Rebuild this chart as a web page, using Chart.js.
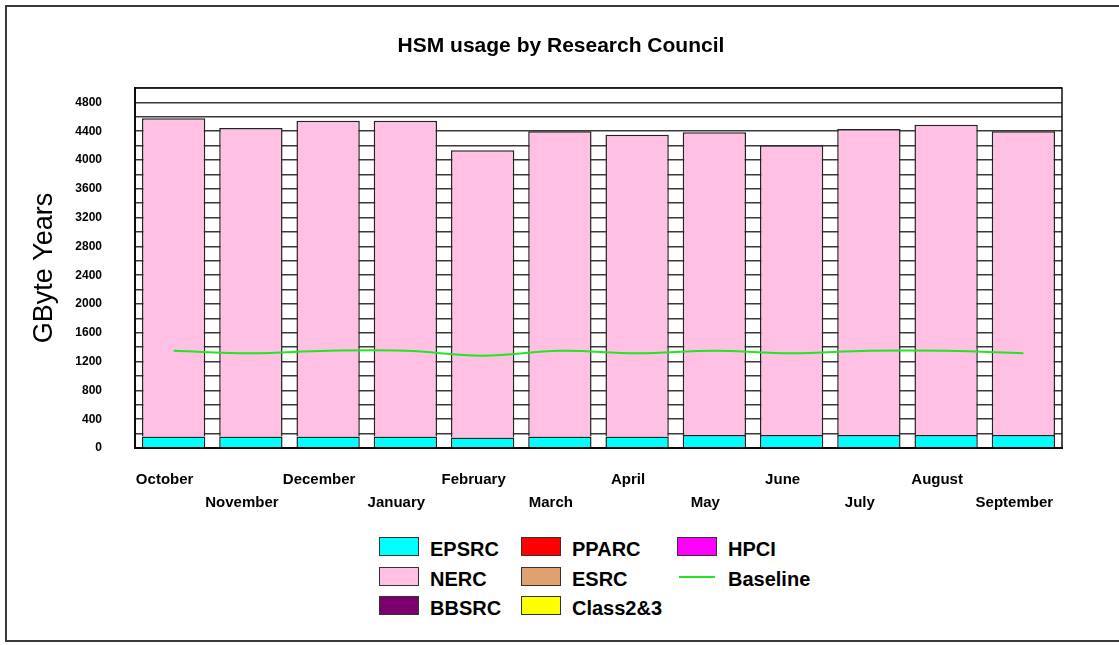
<!DOCTYPE html>
<html>
<head>
<meta charset="utf-8">
<title>HSM usage by Research Council</title>
<script src="https://cdn.jsdelivr.net/npm/chart.js@4/dist/chart.umd.min.js"></script>
<style>
  body { margin: 0; background: #fff; font-family: "Liberation Sans", Arial, sans-serif; }
  #frame { position: absolute; left: 5px; top: 5px; width: 1130px; height: 637px; border: 2px solid #3a3a3a; box-sizing: border-box; }
  #myChart { position: absolute; left: 0; top: 0; }
  #title { position: absolute; left: 0; width: 1122px; top: 33px; text-align: center; font-weight: bold; font-size: 21px; line-height: 24px; color: #000; }
  #legend { position: absolute; left: 379px; top: 537px; display: grid; grid-template-columns: 142px 156px 170px; grid-auto-rows: 29.5px; }
  .item { display: flex; align-items: center; height: 19px; }
  .box { width: 40px; height: 19px; box-sizing: border-box; border: 1.5px solid #333; margin-right: 11px; }
  .lineswatch { width: 40px; height: 19px; margin-right: 11px; position: relative; }
  .lineswatch::after { content: ""; position: absolute; left: 2px; right: 2px; top: 9px; border-top: 2px solid var(--c); }
  .txt { font-weight: bold; font-size: 20px; position: relative; top: 3px; color: #000; }
</style>
</head>
<body>
<div id="frame"></div>
<canvas id="myChart" width="1119" height="530"></canvas>
<div id="title">HSM usage by Research Council</div>
<div id="legend"></div>
<script>
// months, Oct -> Sep
const months = ["October", "November", "December", "January", "February", "March",
  "April", "May", "June", "July", "August", "September"];

// GByte Years per council
const epsrc = [160, 160, 160, 160, 145, 160, 160, 180, 180, 180, 180, 180];
const nerc = [4420, 4285, 4385, 4385, 3990, 4240, 4190, 4205, 4025, 4250, 4310, 4220];
const pparc = [0, 0, 0, 0, 0, 0, 0, 0, 0, 0, 0, 0];
const esrc = [0, 0, 0, 0, 0, 0, 0, 0, 0, 0, 0, 0];
const hpci = [0, 0, 0, 0, 0, 0, 0, 0, 0, 0, 0, 0];
const bbsrc = [0, 0, 0, 0, 0, 0, 0, 0, 0, 0, 0, 0];
const class23 = [0, 0, 0, 0, 0, 0, 0, 0, 0, 0, 0, 0];
const baseline = [1350, 1315, 1350, 1350, 1280, 1350, 1315, 1350, 1315, 1350, 1350, 1315];

Chart.defaults.font.family = '"Liberation Sans", Arial, sans-serif';
Chart.defaults.color = "#000";

function barSet(label, data, colour) {
  return {
    type: "bar",
    label: label,
    data: data,
    backgroundColor: colour,
    borderColor: "#222",
    borderWidth: 1.5,
    barPercentage: 0.82,
    categoryPercentage: 1,
    order: 1
  };
}

const datasets = [
  barSet("EPSRC", epsrc, "#00ffff"),
  barSet("PPARC", pparc, "#ff0000"),
  barSet("HPCI", hpci, "#ff00ff"),
  barSet("NERC", nerc, "#ffc0e4"),
  barSet("ESRC", esrc, "#e0a070"),
  {
    type: "line",
    label: "Baseline",
    data: baseline,
    borderColor: "#22e622",
    borderWidth: 2,
    pointRadius: 0,
    tension: 0.4,
    fill: false,
    order: 0
  },
  barSet("BBSRC", bbsrc, "#7a006e"),
  barSet("Class2&3", class23, "#ffff00")
];

// outline round the plot area
const plotBox = {
  id: "plotBox",
  afterDraw(chart) {
    const a = chart.chartArea;
    const ctx = chart.ctx;
    ctx.save();
    ctx.strokeStyle = "#111";
    ctx.lineWidth = 1.5;
    ctx.strokeRect(a.left, a.top, a.right - a.left, a.bottom - a.top);
    ctx.restore();
  }
};

const ctx = document.getElementById("myChart").getContext("2d");
const myChart = new Chart(ctx, {
  data: { labels: months, datasets: datasets },
  plugins: [plotBox],
  options: {
    responsive: false,
    animation: false,
    devicePixelRatio: 1,
    layout: { padding: { top: 88, left: 10, right: 57, bottom: 16 } },
    plugins: {
      legend: { display: false },
      tooltip: { enabled: false }
    },
    scales: {
      x: {
        stacked: true,
        afterFit: function (scale) { scale.height = 66; },
        grid: { display: false, drawTicks: false },
        border: { display: true, color: "#000", width: 2 },
        ticks: {
          autoSkip: false,
          maxRotation: 0,
          padding: 20,
          labelOffset: -9,
          font: { size: 15, weight: "bold", lineHeight: 1.53 },
          callback: function (value, index) {
            const m = this.getLabelForValue(value);
            return index % 2 ? ["", m] : m;
          }
        }
      },
      y: {
        stacked: true,
        min: 0,
        max: 5000,
        afterFit: function (scale) { scale.width = 125; },
        grid: { color: "#3a3a3a", lineWidth: 1.5, drawTicks: false },
        border: { display: true, color: "#000", width: 2 },
        title: {
          display: true,
          text: "GByte Years",
          font: { size: 27 },
          padding: { top: 18, bottom: 15 }
        },
        ticks: {
          autoSkip: false,
          stepSize: 200,
          padding: 33,
          font: { size: 12, weight: "bold" },
          callback: function (v) {
            return v % 400 === 0 && v < 5000 ? v : "";
          }
        }
      }
    }
  }
});

// legend below the chart, three columns
const legend = document.getElementById("legend");
myChart.data.datasets.forEach(function (ds) {
  const item = document.createElement("div");
  item.className = "item";
  const sw = document.createElement("span");
  if (ds.type === "line") {
    sw.className = "lineswatch";
    sw.style.setProperty("--c", ds.borderColor);
  } else {
    sw.className = "box";
    sw.style.background = ds.backgroundColor;
  }
  const t = document.createElement("span");
  t.className = "txt";
  t.textContent = ds.label;
  item.appendChild(sw);
  item.appendChild(t);
  legend.appendChild(item);
});
</script>
</body>
</html>
